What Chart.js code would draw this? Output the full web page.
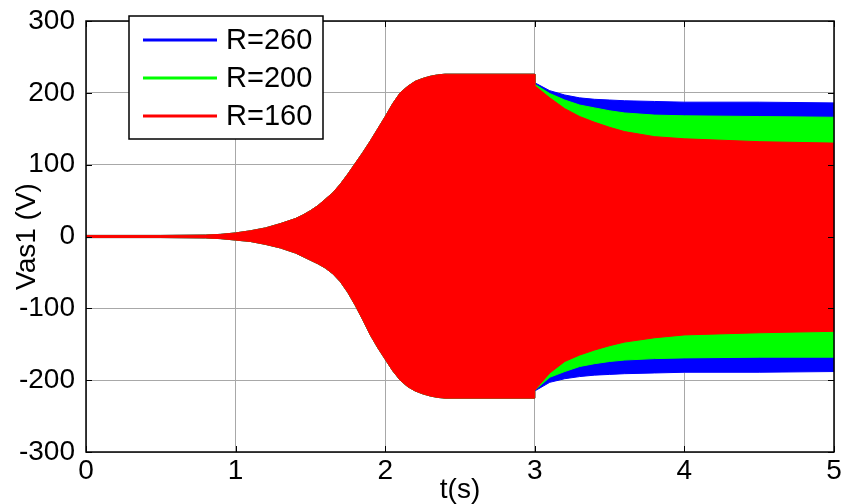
<!DOCTYPE html>
<html>
<head>
<meta charset="utf-8">
<script src="https://cdn.jsdelivr.net/npm/chart.js@4.4.1/dist/chart.umd.min.js"></script>
<style>
  html, body { margin: 0; padding: 0; background: #fff; }
  #wrap { width: 843px; height: 504px; position: relative; }
</style>
</head>
<body>
<div id="wrap"><canvas id="c" width="843" height="504"></canvas></div>
<script>
// ---- Data ----
const seriesNames = ['R=260', 'R=200', 'R=160'];
const seriesColors = ['#0000ff', '#00ff00', '#ff0000'];

// Common build-up phase (identical for all three loads), envelope of Vas1
const tGrowth      = [0, 0.5, 0.8, 0.9, 1.0, 1.1, 1.2, 1.3, 1.4, 1.45, 1.5, 1.55, 1.6, 1.65, 1.7, 1.75, 1.8, 1.85, 1.9, 1.95, 2.0, 2.05, 2.1, 2.15, 2.2, 2.25, 2.3, 2.35, 2.4, 3.0];
const growthUpper  = [1.5, 1.5, 2, 3, 5, 8, 12, 18, 25, 30, 36, 43, 52, 61, 73, 87, 102, 117, 133, 150, 167, 185, 200, 209, 216, 220, 223, 225, 226, 226];
const growthLower  = [-1.5, -1.5, -2, -3, -5, -7, -11, -16, -23, -28, -33, -38, -44, -52, -63, -78, -96, -116, -137, -155, -171, -187, -200, -209, -215, -219, -222, -224, -225, -225];

// After load connection at t = 3 s
const tLoad        = [3.0, 3.1, 3.2, 3.3, 3.4, 3.5, 3.6, 3.8, 4.0, 4.5, 5.0];
const upperR260    = [214, 203, 197, 193, 191, 190, 189, 188, 187, 187, 186];
const lowerR260    = [-215, -203, -198, -195, -193, -192, -191, -190, -189, -189, -188];
const upperR200    = [212, 199, 190, 183, 179, 175, 172, 169, 168, 167, 166];
const lowerR200    = [-214, -196, -188, -181, -177, -174, -172, -170, -169, -168, -168];
const upperR160    = [210, 193, 178, 167, 159, 152, 146, 139, 136, 132, 130];
const lowerR160    = [-214, -190, -174, -165, -158, -152, -147, -141, -137, -134, -132];

const xTicks = [0, 1, 2, 3, 4, 5];
const yTicks = [-300, -200, -100, 0, 100, 200, 300];

// ---- Build datasets ----
function pts(tA, vA, tB, vB) {
  const out = [];
  tA.forEach((t, i) => out.push({x: t, y: vA[i]}));
  tB.forEach((t, i) => out.push({x: t, y: vB[i]}));
  return out;
}
const uppers = [upperR260, upperR200, upperR160];
const lowers = [lowerR260, lowerR200, lowerR160];

const datasets = [];
// red first so it is drawn on top, blue last (drawn underneath)
[2, 1, 0].forEach(k => {
  datasets.push({
    label: seriesNames[k],
    data: pts(tGrowth, growthUpper, tLoad, uppers[k]),
    borderColor: seriesColors[k],
    backgroundColor: seriesColors[k],
    borderWidth: 1,
    pointRadius: 0,
    tension: 0,
    fill: '+1'
  });
  datasets.push({
    label: seriesNames[k] + ' lower',
    data: pts(tGrowth, growthLower, tLoad, lowers[k]),
    borderColor: seriesColors[k],
    backgroundColor: seriesColors[k],
    borderWidth: 1,
    pointRadius: 0,
    tension: 0,
    fill: false
  });
});

const FONT = "'Liberation Sans', Arial, Helvetica, sans-serif";
Chart.defaults.font.family = FONT;
Chart.defaults.color = '#000';

// Axes box + inward tick marks (MATLAB style) and legend
const boxPlugin = {
  id: 'boxPlugin',
  afterDatasetsDraw(chart) {
    const {ctx, chartArea: a, scales} = chart;
    ctx.save();
    ctx.strokeStyle = '#000';
    ctx.lineWidth = 1;
    const L = 6;
    ctx.beginPath();
    xTicks.forEach(v => {
      const px = Math.round(scales.x.getPixelForValue(v)) + 0.5;
      ctx.moveTo(px, a.bottom); ctx.lineTo(px, a.bottom - L);
      ctx.moveTo(px, a.top); ctx.lineTo(px, a.top + L);
    });
    yTicks.forEach(v => {
      const py = Math.round(scales.y.getPixelForValue(v)) + 0.5;
      ctx.moveTo(a.left, py); ctx.lineTo(a.left + L, py);
      ctx.moveTo(a.right, py); ctx.lineTo(a.right - L, py);
    });
    ctx.stroke();
    ctx.lineWidth = 1.5;
    ctx.strokeRect(a.left, a.top, a.right - a.left, a.bottom - a.top);
    ctx.restore();
  },
  afterDraw(chart) {
    const {ctx} = chart;
    ctx.save();
    const bx = 129, by = 16, bw = 194, bh = 123;
    ctx.fillStyle = '#fff';
    ctx.fillRect(bx, by, bw, bh);
    ctx.strokeStyle = '#000';
    ctx.lineWidth = 1.5;
    ctx.strokeRect(bx, by, bw, bh);
    ctx.font = '29px ' + FONT;
    ctx.textBaseline = 'middle';
    ctx.textAlign = 'left';
    seriesNames.forEach((name, i) => {
      const y = 40 + i * 38;
      ctx.strokeStyle = seriesColors[i];
      ctx.lineWidth = 3;
      ctx.beginPath();
      ctx.moveTo(143, y); ctx.lineTo(217, y);
      ctx.stroke();
      ctx.fillStyle = '#000';
      ctx.fillText(name, 226, y + 1);
    });
    ctx.restore();
  }
};

new Chart(document.getElementById('c'), {
  type: 'line',
  data: { datasets },
  options: {
    responsive: false,
    animation: false,
    devicePixelRatio: 1,
    layout: { padding: { left: 0, right: 9, top: 21, bottom: 0 } },
    plugins: { legend: { display: false }, tooltip: { enabled: false }, filler: { drawTime: 'beforeDatasetDraw' } },
    scales: {
      x: {
        type: 'linear', min: 0, max: 5,
        afterBuildTicks: s => { s.ticks = xTicks.map(v => ({value: v})); },
        ticks: { font: { size: 28, lineHeight: 1 }, padding: 5, color: '#000', maxRotation: 0 },
        grid: { color: '#a8a8a8', lineWidth: 1, drawTicks: false },
        border: { display: false },
        title: { display: true, text: 't(s)', font: { size: 28, lineHeight: 1 }, padding: { top: 0, bottom: 0 }, color: '#000' },
        afterFit: s => { s.height = 52; s.paddingRight = 0; s.paddingLeft = 0; }
      },
      y: {
        type: 'linear', min: -300, max: 300,
        afterBuildTicks: s => { s.ticks = yTicks.map(v => ({value: v})); },
        ticks: { font: { size: 28, lineHeight: 1 }, padding: 11, color: '#000' },
        grid: { color: '#a8a8a8', lineWidth: 1, drawTicks: false },
        border: { display: false },
        title: { display: true, text: 'Vas1 (V)', font: { size: 28, lineHeight: 1 }, padding: { top: 13, bottom: 0 }, color: '#000' },
        afterFit: s => { s.width = 86; s.paddingTop = 0; s.paddingBottom = 0; }
      }
    }
  },
  plugins: [boxPlugin]
});
</script>
</body>
</html>
